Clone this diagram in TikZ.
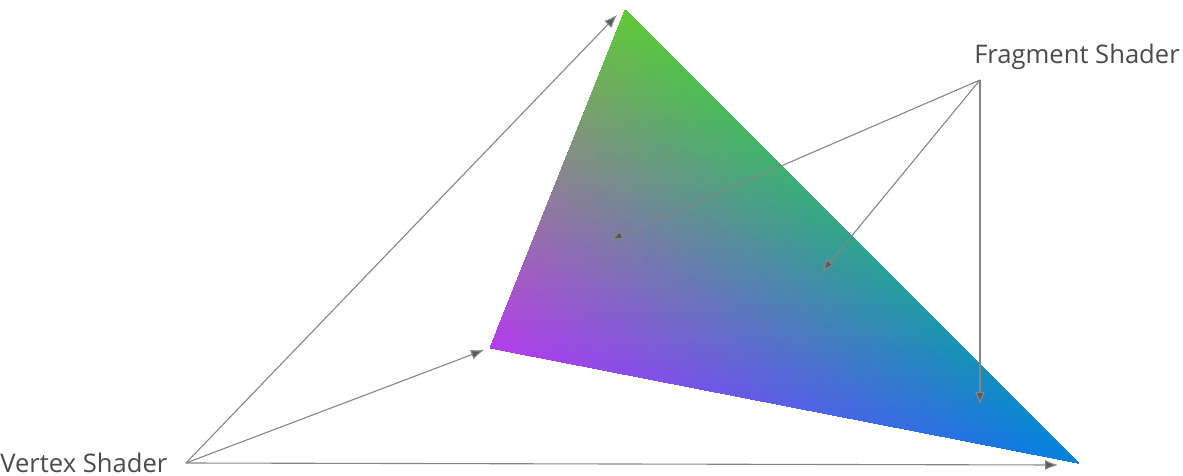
\documentclass[tikz,border=0pt]{standalone}
\usepackage{fontspec}
\setmainfont{Open Sans}
\usepackage{pgfplots}
\pgfplotsset{compat=1.18}
\usetikzlibrary{arrows.meta}
\definecolor{txt}{HTML}{4A4A4A}
\definecolor{arr}{HTML}{858585}
\definecolor{tip}{HTML}{5A5A5A}
\tikzset{
  lbl/.style={font=\fontsize{12.8pt}{15pt}\selectfont, text=txt, inner sep=0pt},
  conn/.style={draw=arr, line width=0.55pt, -{Latex[length=6.5pt,width=5pt,fill=tip]}}
}
\begin{document}
\begin{tikzpicture}[x=0.5pt,y=-0.5pt]
\useasboundingbox (0,0) rectangle (1183,476);
% gradient triangle
\begin{axis}[hide axis, x=0.5pt, y=0.5pt, anchor=origin, at={(0,0)},
  xmin=0, xmax=1183, ymin=-476, ymax=0, clip=false, scale only axis]
\addplot[patch, shader=interp, mesh/color input=explicit] table[meta=c] {
x y c
625 -10 rgb=0.37,0.79,0.22
490 -348 rgb=0.70,0.24,0.92
1078 -463 rgb=0.0,0.50,0.88
};
\end{axis}
\coordinate (top) at (617,15);
\coordinate (left) at (484,350);
\coordinate (right) at (1058,465);
\coordinate (f1) at (610,240);
\coordinate (f2) at (822,272);
\coordinate (f3) at (980,405);
\node[lbl, anchor=west] (vs) at (0,463) {Vertex Shader};
\node[lbl, anchor=center] (fs) at (1077,57) {Fragment Shader};
\coordinate (vso) at (186,463);
\coordinate (fso) at (980,80);
\draw[conn] (vso) -- (top);
\draw[conn] (vso) -- (left);
\draw[conn] (vso) -- (right);
\draw[conn] (fso) -- (f1);
\draw[conn] (fso) -- (f2);
\draw[conn] (fso) -- (f3);
\end{tikzpicture}
\end{document}
